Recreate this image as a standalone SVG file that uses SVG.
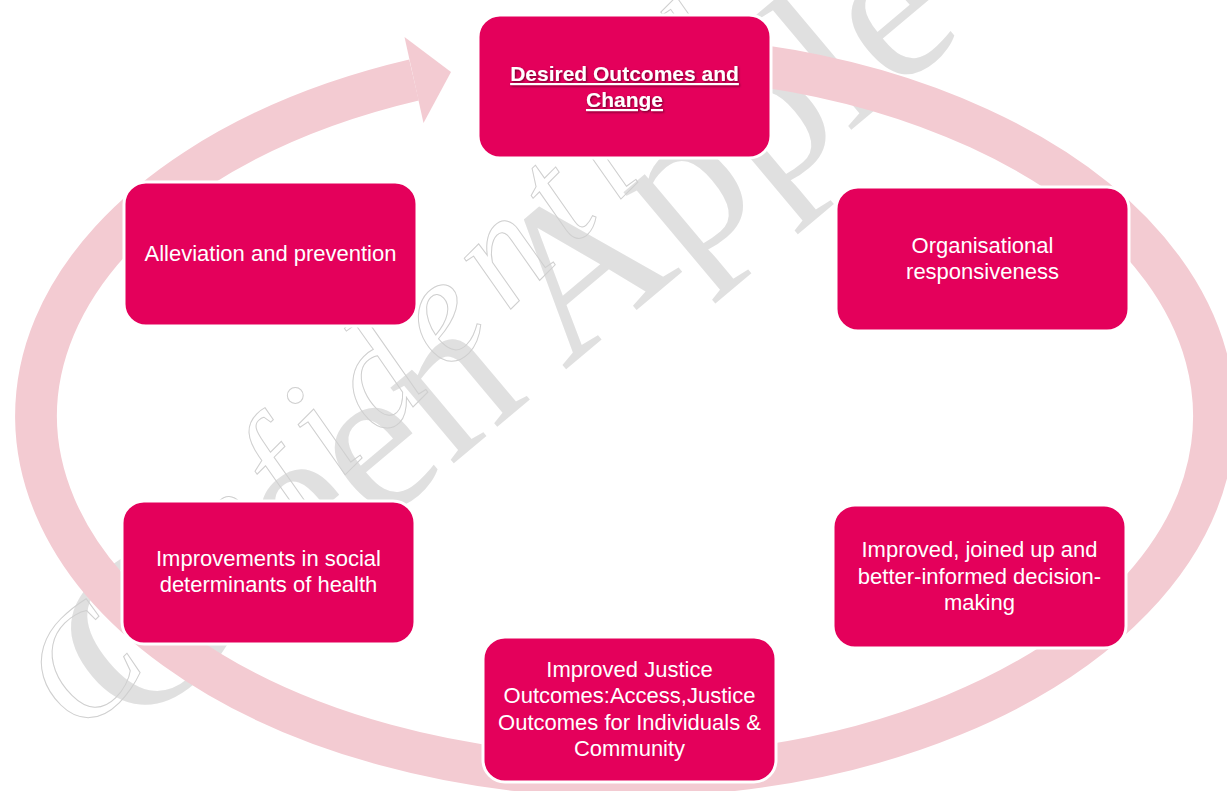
<svg xmlns="http://www.w3.org/2000/svg" width="1227" height="791" viewBox="0 0 1227 791">
  <defs>
    <style>
      .box { fill: #e4005b; stroke: #ffffff; stroke-width: 3; }
      .lbl { font-family: "Liberation Sans", Arial, sans-serif; font-size: 22px; fill: #ffffff; text-anchor: middle; }
      .title { font-family: "Liberation Sans", Arial, sans-serif; font-size: 21px; font-weight: bold; fill: #ffffff; text-anchor: middle; text-decoration: underline; }
      .ring { fill: none; stroke: #f3cbd2; stroke-width: 42; }
      .wm { font-family: "Liberation Serif", "Times New Roman", serif; }
    </style>
    <filter id="shadow" x="-10%" y="-30%" width="120%" height="160%">
      <feDropShadow dx="1" dy="1.2" stdDeviation="0.8" flood-color="#000000" flood-opacity="0.55"/>
    </filter>
  </defs>
  <rect x="0" y="0" width="1227" height="791" fill="#ffffff"/>

  <g id="watermark">
    <text class="wm" x="0" y="0" font-size="215" fill="#e0e0e0" transform="translate(130,735) rotate(-40)">Green Apple</text>
    <text class="wm" x="0" y="0" font-size="150" font-style="italic" letter-spacing="18" fill="none" stroke="#cfcfcf" stroke-width="1" transform="translate(82,738) rotate(-45)">Confidential</text>
  </g>

  <g id="connectors">
    <path class="ring" d="M 740,63 A 589 360 0 1 1 414,80"/>
    <polygon points="404.5,37 451,72 423.5,123" fill="#f3cbd2"/>
  </g>

  <g id="node-desired">
    <rect class="box" x="478" y="15" width="293" height="143" rx="22"/>
    <g filter="url(#shadow)">
      <text class="title" x="624.5" y="81">Desired Outcomes and</text>
      <text class="title" x="624.5" y="107">Change</text>
    </g>
  </g>

  <g id="node-alleviation">
    <rect class="box" x="124" y="182" width="293" height="144" rx="22"/>
    <text class="lbl" x="270.5" y="261">Alleviation and prevention</text>
  </g>

  <g id="node-organisational">
    <rect class="box" x="836" y="187" width="293" height="144" rx="22"/>
    <text class="lbl" x="982.5" y="253">Organisational</text>
    <text class="lbl" x="982.5" y="279">responsiveness</text>
  </g>

  <g id="node-decision">
    <rect class="box" x="833" y="505" width="293" height="143" rx="22"/>
    <text class="lbl" x="979.5" y="557">Improved, joined up and</text>
    <text class="lbl" x="979.5" y="584">better-informed decision-</text>
    <text class="lbl" x="979.5" y="610">making</text>
  </g>

  <g id="node-social">
    <rect class="box" x="122" y="501" width="293" height="143" rx="22"/>
    <text class="lbl" x="268.5" y="566">Improvements in social</text>
    <text class="lbl" x="268.5" y="592">determinants of health</text>
  </g>

  <g id="node-justice">
    <rect class="box" x="483" y="637" width="293" height="145" rx="22"/>
    <text class="lbl" x="629.5" y="677">Improved Justice</text>
    <text class="lbl" x="629.5" y="703">Outcomes:Access,Justice</text>
    <text class="lbl" x="629.5" y="730">Outcomes for Individuals &amp;</text>
    <text class="lbl" x="629.5" y="756">Community</text>
  </g>
</svg>
